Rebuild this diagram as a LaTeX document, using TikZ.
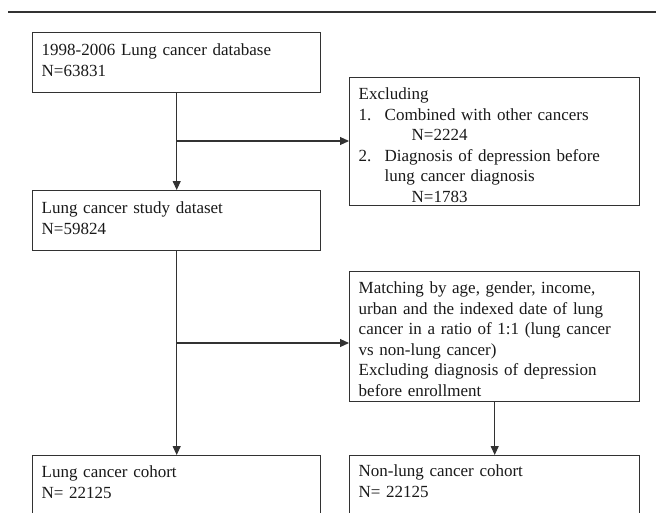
\documentclass[tikz,border=0pt]{standalone}
\usepackage{fontspec}
\setmainfont{Liberation Serif}
\usetikzlibrary{arrows.meta, positioning}
\definecolor{boxline}{RGB}{50, 50, 50}
\definecolor{txtgray}{RGB}{25, 25, 25}

\begin{document}
\begin{tikzpicture}[x=1pt, y=-1pt,
  flowbox/.style={draw=boxline, line width=1.4pt, anchor=north west,
                  inner xsep=9pt, inner ysep=0pt, align=left, text=txtgray,
                  font=\fontsize{17}{20.5}\selectfont},
  narrow/.style={text width=270pt},
  wide/.style={text width=272pt},
  arr/.style={-{Triangle[length=9pt, width=8pt]}, line width=1.1pt, boxline},
]
\clip (0,0) rectangle (656,512);

% Top rule
\draw[line width=2.5pt, boxline] (8,12) -- (656,12);

% Left column
\node[flowbox, narrow, text height=23pt, text depth=37pt] (db) at (32,32)
{1998-2006 Lung cancer database\\N=63831};

\node[flowbox, narrow, text height=23pt, text depth=37pt] (study) at (32,190)
{Lung cancer study dataset\\N=59824};

\node[flowbox, narrow, text height=22pt, text depth=70pt] (lcohort) at (32,455)
{Lung cancer cohort\\N= 22125};

% Right column
\node[flowbox, wide, text height=22pt, text depth=106pt] (excl) at (349,77)
{Excluding\\
\makebox[26pt][l]{1.}Combined with other cancers\\
\hspace*{53pt}N=2224\\
\makebox[26pt][l]{2.}Diagnosis of depression before\\
\hspace*{26pt}lung cancer diagnosis\\
\hspace*{53pt}N=1783};

\node[flowbox, wide, text height=22pt, text depth=108pt] (match) at (349,271)
{Matching by age, gender, income,\\
urban and the indexed date of lung\\
cancer in a ratio of 1:1 (lung cancer\\
vs non-lung cancer)\\
Excluding diagnosis of depression\\
before enrollment};

\node[flowbox, wide, text height=21pt, text depth=70pt] (ncohort) at (349,455)
{Non-lung cancer cohort\\N= 22125};

% Arrows
\coordinate (j1) at (176,141);
\coordinate (j2) at (176,343);
\draw[arr] (db.south) -- (study.north);
\draw[arr] (j1) -- (j1 -| excl.west);
\draw[arr] (study.south) -- (lcohort.north);
\draw[arr] (j2) -- (j2 -| match.west);
\draw[arr] (match.south) -- (ncohort.north);
\end{tikzpicture}
\end{document}
